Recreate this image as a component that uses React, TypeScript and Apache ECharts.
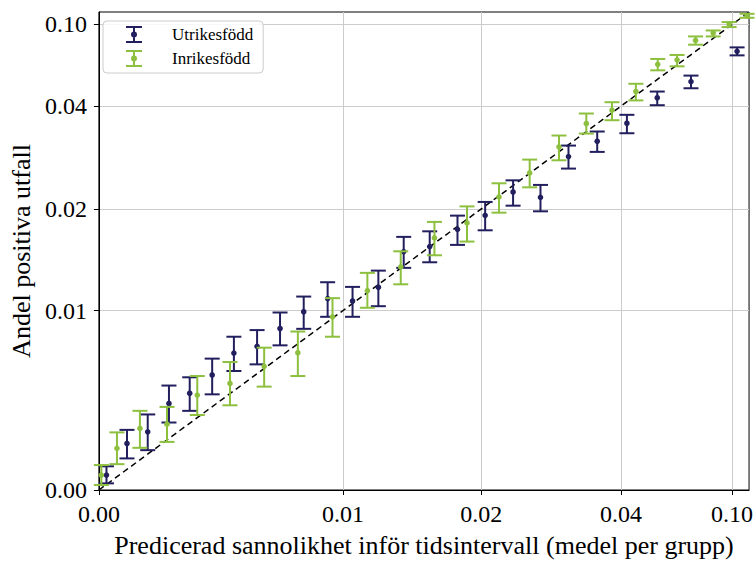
import React, { useEffect, useRef } from 'react';
import * as echarts from 'echarts';

// Axis ticks (shared by both axes)
const TICK_VALUES = [0, 0.01, 0.02, 0.04, 0.1];
const TICK_LABELS = ['0.00', '0.01', '0.02', '0.04', '0.10'];
// Custom (non-linear) scale of the original: relative position of each tick value
const SCALE_U = [0, 0.3755, 0.588, 0.803, 0.974];
const AXIS_MAX = 0.115;

const SERIES_NAMES = ['Utrikesfödd', 'Inrikesfödd'];

// Utrikesfödd
const NAVY_X = [0.00031, 0.00115, 0.002, 0.00287, 0.00372, 0.00464, 0.00553, 0.00648, 0.00742, 0.00839, 0.00937, 0.01049, 0.01194, 0.01356, 0.01545, 0.01776, 0.0204, 0.02343, 0.02684, 0.03084, 0.03556, 0.04202, 0.05396, 0.07126, 0.10419];
const NAVY_Y = [0.00083, 0.00259, 0.00324, 0.00482, 0.00539, 0.00641, 0.00763, 0.008, 0.009, 0.00993, 0.01085, 0.01067, 0.01172, 0.01495, 0.01547, 0.0174, 0.01915, 0.02243, 0.02163, 0.02848, 0.03158, 0.03566, 0.04399, 0.05271, 0.07396];
const NAVY_LO = [0.00037, 0.00176, 0.00222, 0.00376, 0.00441, 0.00533, 0.00663, 0.007, 0.00806, 0.00898, 0.00965, 0.00965, 0.0103, 0.01338, 0.0139, 0.01565, 0.01729, 0.02045, 0.01968, 0.02626, 0.02939, 0.03333, 0.04045, 0.04891, 0.07072];
const NAVY_HI = [0.00132, 0.00335, 0.00421, 0.00582, 0.00628, 0.00732, 0.00854, 0.00891, 0.00989, 0.011, 0.01213, 0.01175, 0.01313, 0.01653, 0.01717, 0.01911, 0.02097, 0.02426, 0.02352, 0.03067, 0.03372, 0.03774, 0.04714, 0.05637, 0.07734];

// Inrikesfödd
const GREEN_X = [0.0001, 0.00074, 0.00168, 0.00279, 0.00403, 0.00537, 0.00677, 0.00815, 0.00957, 0.0113, 0.01336, 0.01582, 0.01863, 0.02185, 0.02544, 0.02942, 0.03369, 0.03827, 0.04524, 0.05418, 0.06353, 0.074, 0.08557, 0.09757, 0.1131];
const GREEN_Y = [0.00083, 0.00232, 0.00343, 0.00367, 0.00529, 0.00594, 0.00689, 0.00765, 0.00965, 0.01146, 0.01347, 0.01641, 0.01818, 0.02169, 0.02551, 0.03041, 0.03559, 0.03894, 0.04714, 0.06396, 0.06718, 0.08363, 0.09084, 0.10045, 0.11021];
const GREEN_LO = [0.00028, 0.00144, 0.00235, 0.00268, 0.00418, 0.00472, 0.00576, 0.00635, 0.00854, 0.01019, 0.01196, 0.01458, 0.01601, 0.0195, 0.02314, 0.02777, 0.03326, 0.03639, 0.04268, 0.05981, 0.06254, 0.0797, 0.08745, 0.09713, 0.10778];
const GREEN_HI = [0.00139, 0.00321, 0.00441, 0.00463, 0.00635, 0.00713, 0.00793, 0.00883, 0.01088, 0.01293, 0.01498, 0.01831, 0.02035, 0.02378, 0.0279, 0.03282, 0.03807, 0.04183, 0.05143, 0.06793, 0.07104, 0.08745, 0.09351, 0.10273, 0.1127];

const NAVY = '#221f5e';
const GREEN = '#8dc03f';
const FONT = 'Liberation Serif';

function toScale(v: number): number {
  const V = TICK_VALUES;
  const U = SCALE_U;
  if (v <= V[1]) return (v / V[1]) * U[1];
  for (let i = 1; i < V.length - 1; i++) {
    if (v <= V[i + 1] || i === V.length - 2) {
      return U[i] + ((U[i + 1] - U[i]) * Math.log(v / V[i])) / Math.log(V[i + 1] / V[i]);
    }
  }
  return 1;
}

const build = (xs: number[], ys: number[], los: number[], his: number[]) =>
  xs.map((x, i) => [toScale(x), toScale(ys[i]), toScale(los[i]), toScale(his[i])]);

const TICK_POS = TICK_VALUES.map(toScale);
const fmt = (val: number) => {
  const i = TICK_POS.findIndex((t) => Math.abs(t - val) < 1e-6);
  return i >= 0 ? TICK_LABELS[i] : '';
};

const ICON =
  'path://M0,0H16V2H0Z M7,2H9V15H7Z M0,15H16V17H0Z M5,8.5A3,3 0 1,1 11,8.5A3,3 0 1,1 5,8.5Z';

const renderErr = (params: any, api: any) => {
  const x = api.value(0);
  const c = api.coord([x, api.value(1)]);
  const lo = api.coord([x, api.value(2)]);
  const hi = api.coord([x, api.value(3)]);
  const color = api.visual('color');
  const hw = 7.5;
  const ls = { stroke: color, lineWidth: 2 };
  return {
    type: 'group',
    children: [
      { type: 'line', shape: { x1: c[0], y1: hi[1], x2: c[0], y2: lo[1] }, style: ls },
      { type: 'line', shape: { x1: c[0] - hw, y1: hi[1], x2: c[0] + hw, y2: hi[1] }, style: ls },
      { type: 'line', shape: { x1: c[0] - hw, y1: lo[1], x2: c[0] + hw, y2: lo[1] }, style: ls },
      { type: 'circle', shape: { cx: c[0], cy: c[1], r: 2.8 }, style: { fill: color } },
    ],
  };
};

const axisCommon = (name: string, nameGap: number, labelMargin: number) => ({
  type: 'value' as const,
  min: 0,
  max: toScale(AXIS_MAX),
  name,
  nameLocation: 'middle' as const,
  nameGap,
  nameTextStyle: { fontFamily: FONT, fontSize: 26, color: '#000' },
  axisLine: { show: true, lineStyle: { color: '#000', width: 1 } },
  axisTick: { show: true, customValues: TICK_POS, length: 5, lineStyle: { color: '#000', width: 1 } },
  axisLabel: {
    customValues: TICK_POS,
    formatter: fmt,
    fontFamily: FONT,
    fontSize: 24,
    color: '#000',
    margin: labelMargin,
  },
  splitLine: { show: true, lineStyle: { color: '#cccccc', width: 1 } },
});

export default function App() {
  const ref = useRef<HTMLDivElement>(null);
  useEffect(() => {
    if (!ref.current) return;
    const chart = echarts.init(ref.current, undefined, { renderer: 'svg' });
    chart.setOption({
      animation: false,
      backgroundColor: '#fff',
      textStyle: { fontFamily: FONT },
      grid: { left: 95, right: 5, top: 12, bottom: 72, show: true, borderColor: '#000', borderWidth: 1, backgroundColor: 'transparent' },
      xAxis: axisCommon('Predicerad sannolikhet inför tidsintervall (medel per grupp)', 42, 12),
      yAxis: axisCommon('Andel positiva utfall', 58, 12),
      legend: {
        orient: 'vertical',
        left: 103,
        top: 21,
        padding: [5, 10, 6, 23],
        itemWidth: 16,
        itemHeight: 17,
        itemGap: 7,
        borderColor: '#cccccc',
        borderWidth: 1,
        borderRadius: 4,
        backgroundColor: 'rgba(255,255,255,0.85)',
        textStyle: { fontFamily: FONT, fontSize: 17, color: '#000', padding: [0, 0, 0, 25] },
        data: SERIES_NAMES.map((n) => ({ name: n, icon: ICON })),
      },
      series: [
        {
          type: 'line',
          data: [
            [toScale(0), toScale(0)],
            [toScale(AXIS_MAX), toScale(AXIS_MAX)],
          ],
          showSymbol: false,
          symbol: 'none',
          silent: true,
          lineStyle: { color: '#000', width: 1.5, type: [6, 4] },
          z: 1,
        },
        {
          type: 'custom',
          name: SERIES_NAMES[0],
          renderItem: renderErr,
          itemStyle: { color: NAVY },
          encode: { x: 0, y: [1, 2, 3] },
          data: build(NAVY_X, NAVY_Y, NAVY_LO, NAVY_HI),
          z: 2,
        },
        {
          type: 'custom',
          name: SERIES_NAMES[1],
          renderItem: renderErr,
          itemStyle: { color: GREEN },
          encode: { x: 0, y: [1, 2, 3] },
          data: build(GREEN_X, GREEN_Y, GREEN_LO, GREEN_HI),
          z: 3,
        },
      ],
    });
    return () => chart.dispose();
  }, []);
  return <div ref={ref} style={{ position: 'fixed', left: 0, top: 0, width: 756, height: 563 }} />;
}
